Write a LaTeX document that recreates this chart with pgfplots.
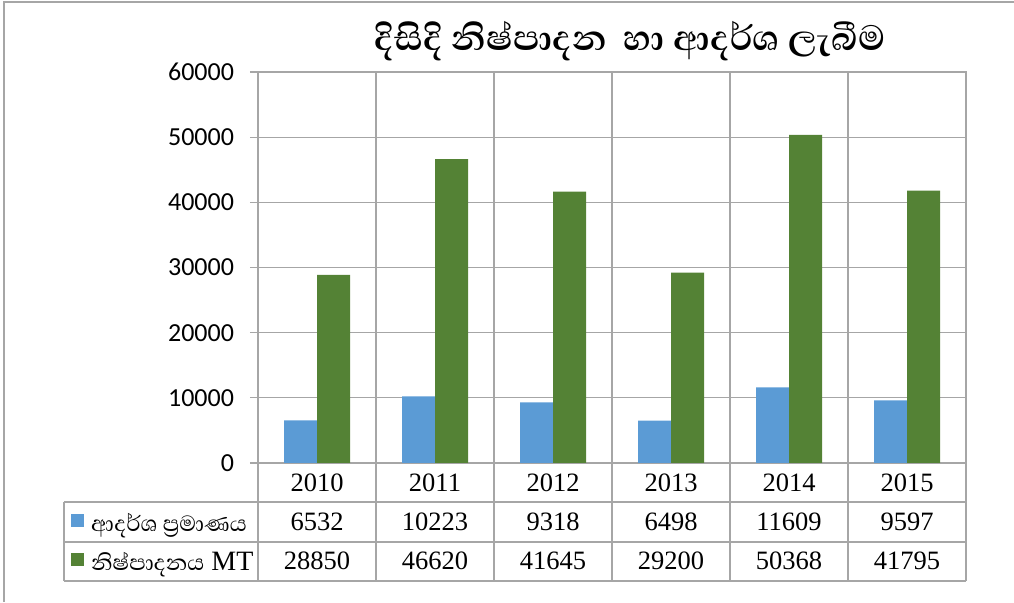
\documentclass[border=0pt]{standalone}
\usepackage{fontspec}
\usepackage{pgfplots}
\pgfplotsset{compat=1.18}
\setmainfont{Liberation Serif}
\newfontfamily\carlito{Carlito}
\newfontfamily\sinhala[Script=Sinhala]{Abhaya Libre}
\definecolor{cblue}{HTML}{5B9BD5}
\definecolor{cgreen}{HTML}{548235}
\definecolor{cgrid}{HTML}{A6A6A6}
\pgfplotsset{sqlegend/.style={legend image code/.code={\fill[##1] (0pt,-5pt) rectangle (13pt,8pt);}}}
\begin{document}
\begin{tikzpicture}[x=1pt,y=1pt]
\path[use as bounding box] (0,0) rectangle (1014,602);
\draw[cgrid, line width=2pt] (3.5,0) -- (3.5,599.5) -- (1014,599.5);
\begin{axis}[
  at={(258pt,139pt)}, anchor=south west,
  scale only axis, width=708pt, height=391pt,
  ybar=0pt, bar width=33pt,
  xmin=-0.5, xmax=5.5, ymin=0, ymax=60000,
  xtick={0,...,5},
  xticklabels={{2010\\6532\\28850},{2011\\10223\\46620},{2012\\9318\\41645},{2013\\6498\\29200},{2014\\11609\\50368},{2015\\9597\\41795}},
  minor xtick={-0.5,0.5,...,5.5},
  xminorgrids=true, ymajorgrids=true,
  ytick={0,10000,...,60000},
  scaled y ticks=false,
  xtick pos=left, ytick pos=left,
  tick align=outside,
  major tick length=8pt, minor tick length=118pt,
  major x tick style={draw=none},
  axis line style={cgrid, line width=1.3pt},
  grid style={cgrid, line width=1.3pt},
  minor grid style={cgrid, line width=1.3pt},
  tick style={cgrid, line width=1.3pt},
  y tick label style={font=\carlito\fontsize{26}{26}\selectfont, /pgf/number format/1000 sep={}, /pgf/number format/assume math mode=true, xshift=-12.5pt},
  x tick label style={font=\fontsize{26.5}{39}\selectfont, align=center, anchor=north, inner sep=0pt, yshift=-3pt},
  legend style={at={(axis description cs:-0.2641,-0.0997)}, anchor=north west, draw=none, fill=none, inner sep=0pt, row sep=0pt, column sep=7pt, font=\fontsize{28}{28}\selectfont, nodes={inner sep=0pt, text height=29pt, text depth=10pt}, legend cell align=left},
]
\addplot[fill=cblue, draw=none, sqlegend] coordinates {(0,6532) (1,10223) (2,9318) (3,6498) (4,11609) (5,9597)};
\addlegendentry{\sinhala ආදර්ශ ප්‍රමාණය}
\addplot[fill=cgreen, draw=none, sqlegend] coordinates {(0,28850) (1,46620) (2,41645) (3,29200) (4,50368) (5,41795)};
\addlegendentry{{\sinhala නිෂ්පාදනය} MT}
\end{axis}
\draw[cgrid, line width=1.3pt] (64,100) -- (966,100);
\draw[cgrid, line width=1.3pt] (64,60) -- (966,60);
\draw[cgrid, line width=1.3pt] (64,21) -- (966,21);
\draw[cgrid, line width=1.3pt] (64,100) -- (64,21);
\node[font=\sinhala\bfseries\fontsize{45}{45}\selectfont] at (630,561) {දිසිදි නිෂ්පාදන\ \ හා ආදර්ශ ලැබීම};
\end{tikzpicture}
\end{document}
